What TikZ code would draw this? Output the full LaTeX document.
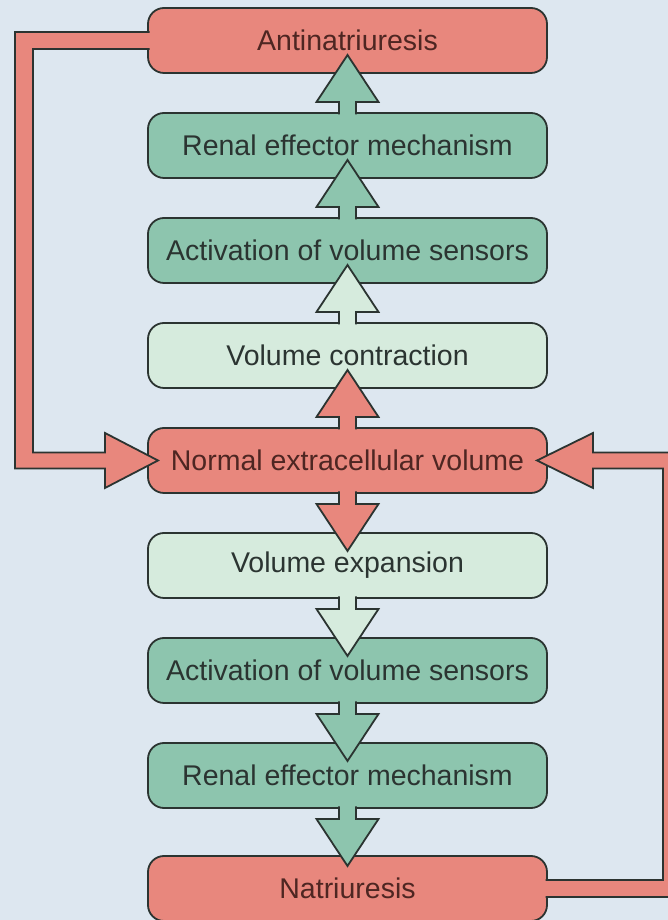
\documentclass[tikz,border=0pt]{standalone}
\usepackage{fontspec}
\setmainfont{Liberation Sans}
\usepackage{tikz}
\usetikzlibrary{positioning,calc}
\definecolor{salmon}{HTML}{E8877D}
\definecolor{mint}{HTML}{8DC5AE}
\definecolor{pale}{HTML}{D6EBDD}
\definecolor{paper}{HTML}{DDE7F0}
\definecolor{ink}{HTML}{2B3431}
\definecolor{redink}{HTML}{4E2622}

\begin{document}
\begin{tikzpicture}[x=1pt, y=1pt, node distance=40pt, every node/.style={font=\fontsize{28.5}{34}\selectfont}, box/.style={draw=ink, line width=1.8pt, rounded corners=16pt, minimum width=399pt, minimum height=65pt, inner sep=0pt, outer sep=0pt, text=ink}, redbox/.style={box, fill=salmon, text=redink}, midbox/.style={box, fill=mint}, palebox/.style={box, fill=pale}, blk/.style={draw=ink, line width=1.8pt, line join=miter}]
\fill[paper] (0,0) rectangle (668,920);
\useasboundingbox (0,0) rectangle (668,920);
\node[redbox] (anti) at (347.5,879.5) {Antinatriuresis};
\node[midbox,below=of anti] (ren1) {Renal effector mechanism};
\node[midbox,below=of ren1] (act1) {Activation of volume sensors};
\node[palebox,below=of act1] (contract) {Volume contraction};
\node[redbox,below=of contract] (norm) {Normal extracellular volume};
\node[palebox,below=of norm] (expand) {Volume expansion};
\node[midbox,below=of expand] (act2) {Activation of volume sensors};
\node[midbox,below=of act2] (ren2) {Renal effector mechanism};
\node[redbox,below=48pt of ren2] (natri) {Natriuresis};
% block arrows between the boxes
\foreach \s/\t/\c in {contract.north/act1.south/pale, act1.north/ren1.south/mint, ren1.north/anti.south/mint, norm.north/contract.south/salmon, norm.south/expand.north/salmon, expand.south/act2.north/pale, act2.south/ren2.north/mint, ren2.south/natri.north/mint}{
  \coordinate (a0) at ($(\s)!-1.5pt!(\t)$);
  \coordinate (a1) at ($(\s)!11pt!(\t)$);
  \coordinate (a2) at ($(\s)!58pt!(\t)$);
  \filldraw[blk, fill=\c] ($(a0)!8.5pt!90:(\t)$) -- ($(a1)!8.5pt!90:(\t)$) -- ($(a1)!31pt!90:(\t)$) -- (a2) -- ($(a1)!31pt!-90:(\t)$) -- ($(a1)!8.5pt!-90:(\t)$) -- ($(a0)!8.5pt!-90:(\t)$);
}
% feedback loops
\filldraw[blk, fill=salmon] ($(anti.west)+(1.5,8.5)$) -- ($(anti.west)+(-133,8.5)$) -- ($(norm.west)+(-133,-8)$) -- ($(norm.west)+(-43,-8)$) -- ($(norm.west)+(-43,-27.5)$) -- ($(norm.west)+(10,0)$) -- ($(norm.west)+(-43,27.5)$) -- ($(norm.west)+(-43,8)$) -- ($(norm.west)+(-115,8)$) -- ($(anti.west)+(-115,-8.5)$) -- ($(anti.west)+(1.5,-8.5)$);
\filldraw[blk, fill=salmon] ($(natri.east)+(-1.5,-8.5)$) -- ($(natri.east)+(133,-8.5)$) -- ($(norm.east)+(133,8)$) -- ($(norm.east)+(46,8)$) -- ($(norm.east)+(46,27.5)$) -- ($(norm.east)+(-10,0)$) -- ($(norm.east)+(46,-27.5)$) -- ($(norm.east)+(46,-8)$) -- ($(norm.east)+(116,-8)$) -- ($(natri.east)+(116,8.5)$) -- ($(natri.east)+(-1.5,8.5)$);
\end{tikzpicture}
\end{document}
